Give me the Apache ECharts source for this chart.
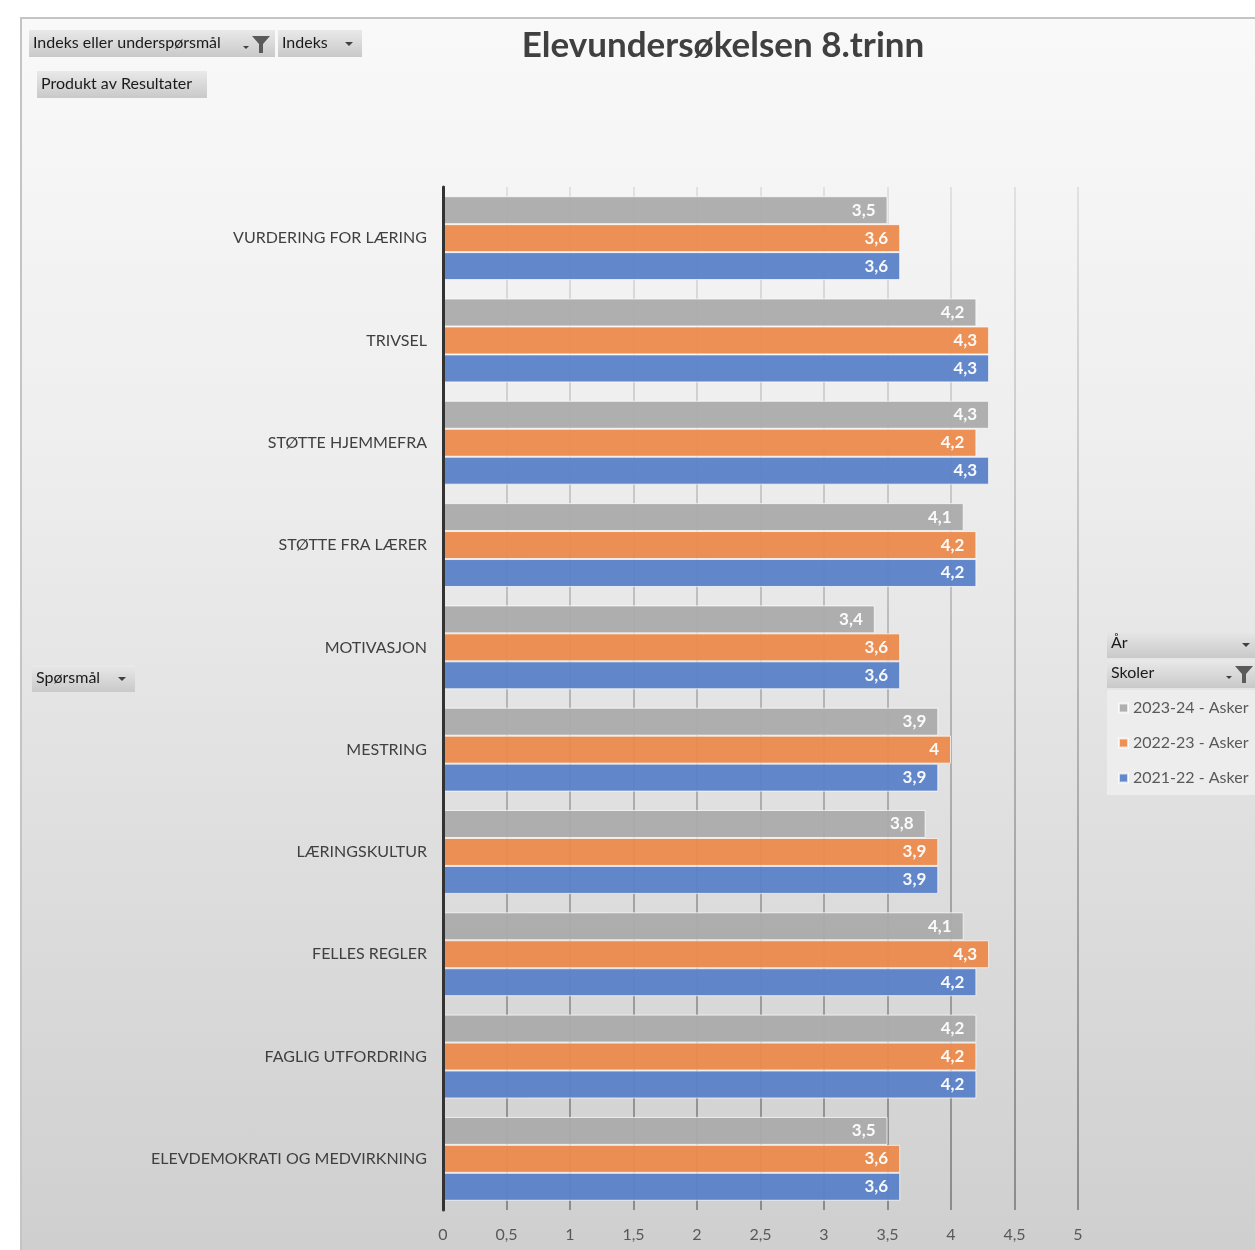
<!DOCTYPE html>
<html>
<head>
<meta charset="utf-8">
<script src="https://cdn.jsdelivr.net/npm/echarts@6/dist/echarts.min.js"></script>
<style>
html,body{margin:0;padding:0;background:#fff;}
#frame{position:absolute;left:20px;top:17px;width:1235px;height:1233px;border-left:2px solid #c4c4c4;border-top:2px solid #c4c4c4;box-sizing:border-box;
background:linear-gradient(to bottom,#f9f9f9 0%,#eeeeee 35%,#dddddd 70%,#cfcfcf 100%);}
#chart{position:absolute;left:0;top:0;width:1255px;height:1250px;}
</style>
</head>
<body>
<div id="frame"></div>
<div id="chart"></div>
<script>
const categories = ['VURDERING FOR LÆRING','TRIVSEL','STØTTE HJEMMEFRA','STØTTE FRA LÆRER','MOTIVASJON','MESTRING','LÆRINGSKULTUR','FELLES REGLER','FAGLIG UTFORDRING','ELEVDEMOKRATI OG MEDVIRKNING'];
const seriesNames = ['2023-24 - Asker','2022-23 - Asker','2021-22 - Asker'];
const values2023 = [3.5,4.2,4.3,4.1,3.4,3.9,3.8,4.1,4.2,3.5];
const values2022 = [3.6,4.3,4.2,4.2,3.6,4.0,3.9,4.3,4.2,3.6];
const values2021 = [3.6,4.3,4.3,4.2,3.6,3.9,3.9,4.2,4.2,3.6];
const colors = ['#ABABAB','#EB8A4C','#5A82C8'];

const FONT = 'Lato, "Open Sans", sans-serif';
const comma = v => String(v).replace('.', ',');

const chart = echarts.init(document.getElementById('chart'), null, {renderer:'canvas'});

function btnFill(){
  return {type:'linear',x:0,y:0,x2:0,y2:1,colorStops:[{offset:0,color:'#e9e9e9'},{offset:1,color:'#c9c9c9'}]};
}
function button(x,y,w,h,text){
  return [
    {type:'rect',left:x,top:y,shape:{width:w,height:h},style:{fill:btnFill()},z:1},
    {type:'text',left:x+4,top:y+5,style:{text:text,font:'16px '+FONT,fill:'#1a1a1a'},z:2}
  ];
}
function arrow(cx,cy){
  return {type:'polygon',shape:{points:[[cx-4,cy-2],[cx+4,cy-2],[cx,cy+2]]},style:{fill:'#404040'},z:3};
}
function funnel(x,y){
  return [
    {type:'polygon',shape:{points:[[x,y],[x+18,y],[x+11,y+8],[x+11,y+17],[x+7,y+17],[x+7,y+8]]},style:{fill:'#5a5a5a'},z:3},
    {type:'polygon',shape:{points:[[x-9,y+10],[x-3,y+10],[x-6,y+13]]},style:{fill:'#404040'},z:3}
  ];
}

const graphics = [].concat(
  button(29,30,246,27,'Indeks eller underspørsmål'),
  funnel(252,36),
  button(278,30,84,27,'Indeks'),
  [arrow(349,44)],
  button(37,71,170,27,'Produkt av Resultater'),
  button(32,665,103,27,'Spørsmål'),
  [arrow(122,679)],
  button(1107,630,148,28,'År'),
  [arrow(1246,645)],
  button(1107,660,148,28,'Skoler'),
  funnel(1235,666),
  [{type:'rect',left:1107,top:690,shape:{width:148,height:105},style:{fill:'rgba(238,238,238,0.85)'},z:1}]
);

const series = [values2023, values2022, values2021].map((vals, i) => ({
  name: seriesNames[i],
  type: 'bar',
  data: vals,
  barGap: '0%',
  barCategoryGap: '18%',
  itemStyle: {color: colors[i], borderColor: 'rgba(255,255,255,0.75)', borderWidth: 1, opacity: 0.95},
  label: {show: true, position: 'insideRight', distance: 12, color: '#fff', fontWeight: 'bold', fontSize: 17, fontFamily: FONT, formatter: p => comma(p.value)},
  emphasis: {disabled: true},
  z: 2
}));

chart.setOption({
  animation: false,
  textStyle: {fontFamily: FONT},
  title: {text: 'Elevundersøkelsen 8.trinn', left: 718, top: 23, textAlign: 'center',
    textStyle: {fontSize: 35, fontWeight: 'bold', color: '#404040', fontFamily: FONT}},
  legend: {
    data: seriesNames, orient: 'vertical', left: 1113, top: 695, itemWidth: 9, itemHeight: 9, itemGap: 19,
    icon: 'rect', textStyle: {fontSize: 16, color: '#595959', fontFamily: FONT}, selectedMode: false, z: 5
  },
  grid: {left: 443, right: 177, top: 187, bottom: 40, containLabel: false},
  xAxis: {
    type: 'value', min: 0, max: 5, interval: 0.5,
    axisLine: {show: false}, axisTick: {show: false},
    axisLabel: {formatter: v => comma(v), color: '#595959', fontSize: 16, fontFamily: FONT, margin: 17},
    splitLine: {show: true, lineStyle: {width: 2, color: {type:'linear',x:0,y:187,x2:0,y2:1210,global:true,
      colorStops:[{offset:0,color:'rgba(0,0,0,0.08)'},{offset:1,color:'rgba(0,0,0,0.33)'}]}}}
  },
  yAxis: {
    type: 'category', data: categories, inverse: true, z: 5,
    axisLine: {show: true, lineStyle: {color: '#333', width: 3}},
    axisTick: {show: false},
    axisLabel: {color: '#404040', fontSize: 16, fontFamily: FONT, margin: 16}
  },
  graphic: graphics,
  series: series
});
</script>
</body>
</html>
